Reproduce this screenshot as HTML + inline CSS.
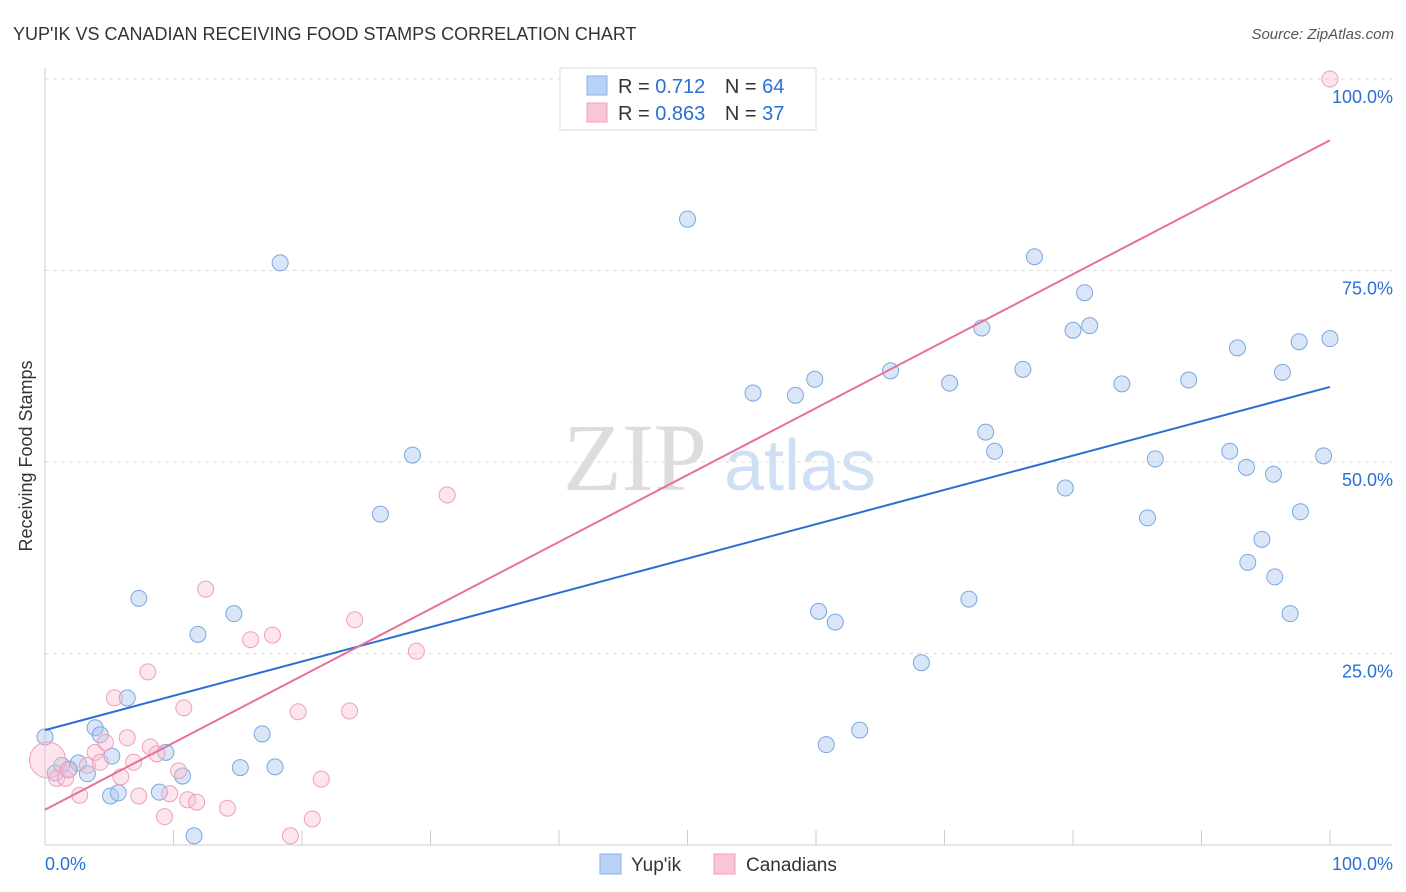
<!DOCTYPE html>
<html><head><meta charset="utf-8"><style>
body{margin:0;background:#fff;font-family:"Liberation Sans",sans-serif;}
svg{display:block}
</style></head><body>
<svg id="c" width="1406" height="892" xmlns="http://www.w3.org/2000/svg">
<text x="13" y="40" font-size="18" fill="#333">YUP'IK VS CANADIAN RECEIVING FOOD STAMPS CORRELATION CHART</text>
<text x="1394" y="39" font-size="15" fill="#555" text-anchor="end" font-style="italic">Source: ZipAtlas.com</text>
<text x="32" y="456" font-size="18" fill="#333" text-anchor="middle" transform="rotate(-90 32 456)">Receiving Food Stamps</text>
<g><text x="635" y="490" font-size="96" fill="#ddd" text-anchor="middle" font-family="Liberation Serif,serif">ZIP</text><text x="800" y="490" font-size="72" fill="#cfe0f5" text-anchor="middle">atlas</text></g>
<g id="grid"></g><g id="axes"></g><g id="pts"></g><g id="lines"></g>
<g>
<rect x="560" y="68" width="256" height="62" fill="#fff" stroke="#ddd"/>
<rect x="587" y="76" width="20" height="19" fill="#b8d2f5" stroke="#8ab0e6"/>
<rect x="587" y="103" width="20" height="19" fill="#f8c6d6" stroke="#f0a0b8"/>
<text x="618" y="93" font-size="20" fill="#333">R = <tspan fill="#2a6fd6">0.712</tspan>  <tspan dx="14">N = </tspan><tspan fill="#2a6fd6">64</tspan></text>
<text x="618" y="120" font-size="20" fill="#333">R = <tspan fill="#2a6fd6">0.863</tspan>  <tspan dx="14">N = </tspan><tspan fill="#2a6fd6"> 37</tspan></text>
</g>
<g>
<rect x="600" y="854" width="21" height="20" fill="#b8d2f5" stroke="#8ab0e6"/>
<text x="631" y="871" font-size="19" fill="#333">Yup'ik</text>
<rect x="714" y="854" width="21" height="20" fill="#f8c6d6" stroke="#f0a0b8"/>
<text x="746" y="871" font-size="19" fill="#333">Canadians</text>
</g>
</svg>
<script>
const blueX=[0,0.8,1.3,1.9,2.6,3.3,3.9,4.3,5.1,5.2,5.7,6.4,7.3,8.9,9.4,10.7,11.6,11.9,14.7,15.2,16.9,17.9,18.3,26.1,28.6,50.0,55.1,58.4,59.9,60.2,60.8,61.5,63.4,65.8,68.2,70.4,71.9,72.9,73.2,73.9,76.1,77.0,79.4,80.0,80.9,81.3,83.8,85.8,86.4,89.0,92.2,92.8,93.5,93.6,94.7,95.6,95.7,96.3,96.9,97.6,97.7,99.5,100];
const blueY=[14.1,9.4,10.4,9.9,10.7,9.3,15.3,14.4,6.4,11.6,6.8,19.2,32.2,6.9,12.1,9.0,1.2,27.5,30.2,10.1,14.5,10.2,76.0,43.2,50.9,81.7,59.0,58.7,60.8,30.5,13.1,29.1,15.0,61.9,23.8,60.3,32.1,67.5,53.9,51.4,62.1,76.8,46.6,67.2,72.1,67.8,60.2,42.7,50.4,60.7,51.4,64.9,49.3,36.9,39.9,48.4,35.0,61.7,30.2,65.7,43.5,50.8,66.1];
const pinkX=[0.2,0.9,1.6,1.8,2.7,3.3,3.9,4.3,4.7,5.4,5.9,6.4,6.9,7.3,8.0,8.2,8.7,9.3,9.7,10.4,10.8,11.1,11.8,12.5,14.2,16.0,17.7,19.1,19.7,20.8,21.5,23.7,24.1,28.9,31.3,100];
const pinkY=[11.1,8.7,8.7,9.8,6.5,10.4,12.1,10.8,13.4,19.2,8.9,14.0,10.8,6.4,22.6,12.8,11.9,3.7,6.7,9.7,17.9,5.9,5.6,33.4,4.8,26.8,27.4,1.2,17.4,3.4,8.6,17.5,29.4,25.3,45.7,100];
const blueTrend=[15.0,59.8];
const pinkTrend=[4.6,92.0];
const yTicks=[25,50,75,100];
const yTickLabels=["25.0%","50.0%","75.0%","100.0%"];
const NS="http://www.w3.org/2000/svg";
const sx=v=>45+v*12.85, sy=v=>845-v*7.66;
function mk(t,a,p){const e=document.createElementNS(NS,t);for(const k in a)e.setAttribute(k,a[k]);document.getElementById(p).appendChild(e);return e;}
let l=mk('line',{x1:45,y1:68,x2:45,y2:845,stroke:'#ccc'},'axes');


l=mk('line',{x1:45,y1:845,x2:1392,y2:845,stroke:'#ccc'},'axes');


for(let i=0;i<=10;i++){const t=mk('line',{x1:sx(i*10),y1:845,x2:sx(i*10),y2:830,stroke:'#ccc'},'axes');

}
yTicks.forEach((v,i)=>{const g=mk('line',{x1:45,y1:sy(v),x2:1392,y2:sy(v),stroke:'#ddd','stroke-dasharray':'4,4'},'grid');


const t=mk('text',{x:1393,y:sy(v)+24,'font-size':18,fill:'#2a6fd6','text-anchor':'end'},'axes');t.textContent=yTickLabels[i];

});
let t=mk('text',{x:45,y:870,'font-size':18,fill:'#2a6fd6'},'axes');t.textContent='0.0%';


t=mk('text',{x:1393,y:870,'font-size':18,fill:'#2a6fd6','text-anchor':'end'},'axes');t.textContent='100.0%';


blueX.forEach((x,i)=>{const c=mk('circle',{cx:sx(x),cy:sy(blueY[i]),r:8,fill:'rgba(170,200,240,0.45)',stroke:'#7aa7e0','stroke-width':1},'pts');

});
pinkX.forEach((x,i)=>{const c=mk('circle',{cx:sx(x),cy:sy(pinkY[i]),r:i===0?18:8,fill:'rgba(248,190,208,0.4)',stroke:'#f0a0b8','stroke-width':1},'pts');

});
l=mk('line',{x1:sx(0),y1:sy(blueTrend[0]),x2:sx(100),y2:sy(blueTrend[1]),stroke:'#2a6fd6','stroke-width':2},'lines');


l=mk('line',{x1:sx(0),y1:sy(pinkTrend[0]),x2:sx(100),y2:sy(pinkTrend[1]),stroke:'#e8709a','stroke-width':2},'lines');


</script>
</body></html>
